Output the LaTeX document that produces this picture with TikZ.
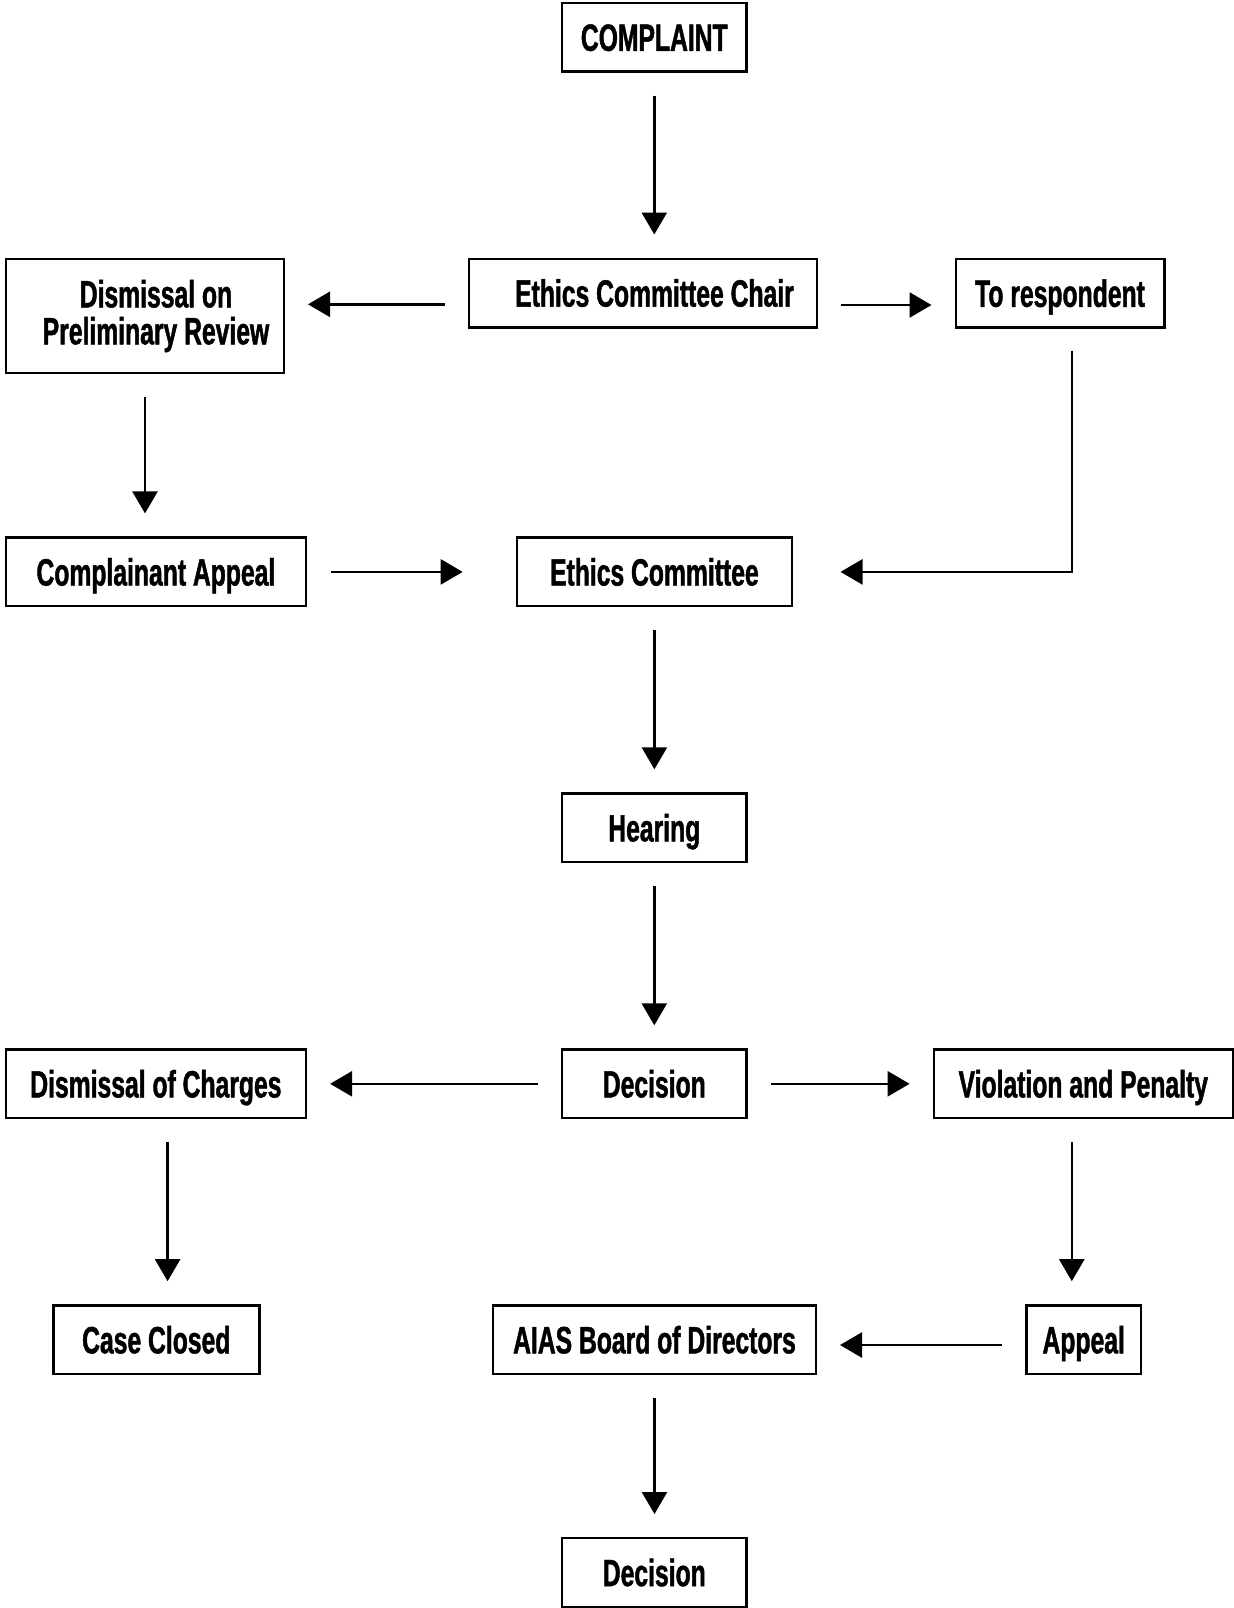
\documentclass[tikz,border=0pt]{standalone}
\usepackage{fontspec}
\setmainfont{Liberation Sans}[FakeStretch=0.65,FakeBold=1.2]
\usetikzlibrary{arrows.meta}
\begin{document}
\begin{tikzpicture}[x=0.5pt,y=-0.5pt,
  box/.style={draw=black, line width=1.2pt, fill=white, inner sep=0pt,
    minimum height=34.3pt, align=center,
    font=\fontsize{19pt}{18.5pt}\selectfont\bfseries},
  one/.style={text height=13.6pt, text depth=0pt},
  arr/.style={draw=black, line width=1.3pt, -{Triangle[length=11pt,width=12.5pt]},
    shorten <=11.5pt, shorten >=11.5pt}]
\useasboundingbox[fill=white] (0,0) rectangle (1234,1608);
% nodes
\node[box,one,minimum width=92.1pt]  (complaint) at (654.3,37.2)   {COMPLAINT};
\node[box,one,minimum width=173.8pt] (chair)     at (643,293)      {\hspace*{11.5pt}Ethics Committee Chair};
\node[box,one,minimum width=104.3pt] (resp)      at (1060,293.2)   {To respondent};
\node[box,minimum width=138.8pt,minimum height=57.1pt] (dism) at (145,316)
  {\hspace*{11pt}Dismissal on\\\hspace*{11pt}Preliminary Review};
\node[box,one,minimum width=150pt]   (capp)      at (155.9,571.9)  {Complainant Appeal};
\node[box,one,minimum width=137.7pt] (ec)        at (654.4,571.9)  {Ethics Committee};
\node[box,one,minimum width=92.1pt]  (hearing)   at (654.3,827.8)  {Hearing};
\node[box,one,minimum width=92.1pt]  (dec)       at (654.3,1083.8) {Decision};
\node[box,one,minimum width=150pt]   (dchg)      at (155.9,1083.8) {Dismissal of Charges};
\node[box,one,minimum width=149.5pt] (viol)      at (1083.3,1083.8){Violation and Penalty};
\node[box,one,minimum width=103pt]   (closed)    at (156.3,1339.7) {Case Closed};
\node[box,one,minimum width=161.3pt] (aias)      at (654.5,1339.7) {AIAS Board of Directors};
\node[box,one,minimum width=57.1pt]  (appeal)    at (1083.7,1339.7){Appeal};
\node[box,one,minimum width=92.1pt]  (dec2)      at (654.3,1572.5) {Decision};
% helper coordinates
\coordinate (chl) at ([yshift=-5.65pt]chair.west);
\coordinate (chr) at ([yshift=-6pt]chair.east);
\coordinate (rsb) at ([xshift=5.9pt]resp.south);
\coordinate (dcb) at ([xshift=5.85pt]dchg.south);
\coordinate (vlb) at ([xshift=-5.75pt]viol.south);
\coordinate (apl) at ([yshift=-2.65pt]appeal.west);
% connectors
\draw[arr] (complaint.south) -- (complaint.south |- chair.north);
\draw[arr] (chl) -- (dism.east |- chl);
\draw[arr] (chr) -- (resp.west |- chr);
\draw[arr] (dism.south) -- (dism.south |- capp.north);
\draw[arr, shorten <=11.75pt, shorten >=26.4pt] (capp.east) -- (ec.west);
\draw[arr, shorten <=11pt, shorten >=23.6pt] (rsb) |- (ec.east);
\draw[arr] (ec.south) -- (ec.south |- hearing.north);
\draw[arr] (hearing.south) -- (dec.north);
\draw[arr] (dec.west) -- (dchg.east);
\draw[arr] (dec.east) -- (viol.west);
\draw[arr] (dcb) -- (dcb |- closed.north);
\draw[arr] (vlb) -- (vlb |- appeal.north);
\draw[arr] (apl) -- (aias.east |- apl);
\draw[arr] (aias.south) -- (aias.south |- dec2.north);
\end{tikzpicture}
\end{document}
